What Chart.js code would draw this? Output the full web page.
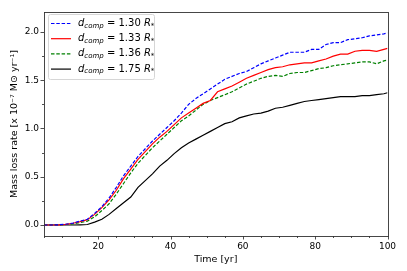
<!DOCTYPE html>
<html>
<head>
<meta charset="utf-8">
<script src="https://cdn.jsdelivr.net/npm/chart.js@4/dist/chart.umd.min.js"></script>
<style>
  html, body { margin: 0; padding: 0; background: #fff; }
  #wrap { width: 407px; height: 271px; }
</style>
</head>
<body>
<div id="wrap"><canvas id="chart1"></canvas></div>
<script>
// time axis [yr]
const times = [5, 7, 9, 11, 13, 15, 17, 19, 21, 23, 25, 27, 29, 31, 33, 35, 37, 39, 41, 43,
  45, 47, 49, 51, 53, 55, 57, 59, 61, 63, 65, 67, 69, 71, 73, 75, 77, 79, 81, 83,
  85, 87, 89, 91, 93, 95, 97, 99, 100]

// mass loss rate [x 1e-7 Msun/yr]
const rate_130 = [0, 0, 0.002, 0.008, 0.02, 0.04, 0.06, 0.12, 0.19, 0.28, 0.39, 0.51, 0.61, 0.71, 0.79, 0.87, 0.94, 1.01, 1.08, 1.16,
  1.25, 1.31, 1.36, 1.41, 1.46, 1.51, 1.54, 1.57, 1.59, 1.63, 1.67, 1.70, 1.73, 1.76, 1.79, 1.79, 1.79, 1.82, 1.82, 1.87,
  1.89, 1.89, 1.92, 1.93, 1.94, 1.96, 1.97, 1.98, 1.99]
const rate_133 = [0, 0, 0.002, 0.007, 0.018, 0.035, 0.055, 0.11, 0.18, 0.26, 0.36, 0.48, 0.58, 0.68, 0.76, 0.84, 0.91, 0.97, 1.04, 1.11,
  1.16, 1.21, 1.26, 1.29, 1.38, 1.41, 1.44, 1.48, 1.52, 1.55, 1.58, 1.61, 1.63, 1.64, 1.66, 1.67, 1.68, 1.68, 1.70, 1.72,
  1.75, 1.77, 1.77, 1.80, 1.81, 1.81, 1.80, 1.82, 1.83]
const rate_136 = [0, 0, 0.001, 0.005, 0.012, 0.025, 0.04, 0.085, 0.15, 0.22, 0.32, 0.43, 0.54, 0.64, 0.72, 0.80, 0.87, 0.94, 1.01, 1.08,
  1.13, 1.19, 1.25, 1.29, 1.32, 1.35, 1.38, 1.42, 1.46, 1.49, 1.52, 1.54, 1.55, 1.54, 1.57, 1.58, 1.58, 1.60, 1.62, 1.63,
  1.65, 1.66, 1.67, 1.68, 1.69, 1.69, 1.67, 1.70, 1.71]
const rate_175 = [0, 0, 0, 0, 0, 0.002, 0.005, 0.03, 0.06, 0.11, 0.17, 0.23, 0.29, 0.39, 0.46, 0.53, 0.61, 0.67, 0.74, 0.80,
  0.85, 0.89, 0.93, 0.97, 1.01, 1.05, 1.07, 1.11, 1.13, 1.15, 1.16, 1.18, 1.21, 1.22, 1.24, 1.26, 1.28, 1.29, 1.30, 1.31,
  1.32, 1.33, 1.33, 1.33, 1.34, 1.34, 1.35, 1.36, 1.37]

const d_comp = ['1.30', '1.33', '1.36', '1.75']
const x_ticks = [20, 40, 60, 80, 100]
const y_ticks = [0, 0.5, 1.0, 1.5, 2.0]

const FONT = 'DejaVu Sans'

function make_dataset(values, color, dash, d) {
  return {
    label: d,
    data: times.map((t, i) => ({x: t, y: values[i]})),
    borderColor: color,
    backgroundColor: color,
    borderWidth: 1.2,
    borderDash: dash,
    pointRadius: 0,
    tension: 0,
    fill: false
  }
}

// matplotlib-like ticks (major + minor, outward), frame and legend
const mpl_plugin = {
  id: 'mpl',
  afterDraw(chart) {
    const ctx = chart.ctx
    const a = chart.chartArea
    const xs = chart.scales.x
    const ys = chart.scales.y
    ctx.save()
    ctx.strokeStyle = '#222'
    ctx.lineWidth = 0.8
    ctx.beginPath()
    for (let v = 5; v <= 100; v += 5) {
      const px = Math.round(xs.getPixelForValue(v)) + 0.5
      const len = (v % 20 == 0) ? 3.5 : 2
      ctx.moveTo(px, a.bottom)
      ctx.lineTo(px, a.bottom + len)
    }
    for (let v = -0.0; v <= 2.2; v += 0.25) {
      const py = Math.round(ys.getPixelForValue(v)) + 0.5
      const len = (Math.abs(v * 2 - Math.round(v * 2)) < 1e-6) ? 3.5 : 2
      ctx.moveTo(a.left, py)
      ctx.lineTo(a.left - len, py)
    }
    ctx.stroke()
    ctx.strokeStyle = '#333'
    ctx.lineWidth = 0.9
    ctx.strokeRect(Math.round(a.left) + 0.5, Math.round(a.top) + 0.5,
      Math.round(a.right - a.left), Math.round(a.bottom - a.top))

    // legend
    const lx = a.left + 4, ly = a.top + 2, lw = 106, lh = 65
    ctx.fillStyle = 'rgba(255,255,255,0.85)'
    ctx.strokeStyle = '#d6d6d6'
    ctx.lineWidth = 1
    ctx.beginPath()
    ctx.roundRect(lx + 0.5, ly + 0.5, lw, lh, 2)
    ctx.fill()
    ctx.stroke()
    chart.data.datasets.forEach((ds, i) => {
      const cy = ly + 9.5 + i * 15.2
      ctx.strokeStyle = ds.borderColor
      ctx.lineWidth = 1.2
      ctx.setLineDash(ds.borderDash || [])
      ctx.beginPath()
      ctx.moveTo(lx + 3, cy)
      ctx.lineTo(lx + 23, cy)
      ctx.stroke()
      ctx.setLineDash([])
      ctx.fillStyle = '#000'
      ctx.textBaseline = 'middle'
      let tx = lx + 30
      ctx.font = 'italic 10px ' + FONT
      ctx.fillText('d', tx, cy)
      tx += ctx.measureText('d').width
      ctx.font = 'italic 7px ' + FONT
      ctx.fillText('comp', tx, cy + 2.5)
      tx += ctx.measureText('comp').width
      ctx.font = '10px ' + FONT
      const mid = ' = ' + ds.label + ' '
      ctx.fillText(mid, tx, cy)
      tx += ctx.measureText(mid).width
      ctx.font = 'italic 10px ' + FONT
      ctx.fillText('R', tx, cy)
      tx += ctx.measureText('R').width
      ctx.font = '7px ' + FONT
      ctx.fillText('*', tx, cy + 2.5)
    })
    ctx.restore()
  }
}

const ctx = document.getElementById('chart1')
const myChart = new Chart(ctx, {
  type: 'line',
  data: {
    datasets: [
      make_dataset(rate_130, '#0000ff', [3.5, 1.8], d_comp[0]),
      make_dataset(rate_133, '#ff0000', [], d_comp[1]),
      make_dataset(rate_136, '#008000', [3.5, 1.8], d_comp[2]),
      make_dataset(rate_175, '#000000', [], d_comp[3])
    ]
  },
  options: {
    responsive: true,
    maintainAspectRatio: false,
    animation: false,
    layout: { padding: { left: 0, right: 19.5, top: 12, bottom: 6 } },
    plugins: {
      legend: { display: false },
      tooltip: { enabled: false }
    },
    scales: {
      x: {
        type: 'linear',
        min: 5,
        max: 100,
        afterBuildTicks: s => { s.ticks = x_ticks.map(v => ({value: v})) },
        afterFit: s => { s.height = 271 - 236 - 6 },
        grid: { display: false, drawTicks: false },
        border: { display: false },
        ticks: {
          color: '#000',
          font: { family: FONT, size: 9 },
          padding: 5,
          maxRotation: 0,
          callback: v => String(v)
        },
        title: {
          display: true,
          text: 'Time [yr]',
          color: '#000',
          font: { family: FONT, size: 9.5 },
          padding: { top: 2, bottom: 0 }
        }
      },
      y: {
        type: 'linear',
        min: -0.114,
        max: 2.207,
        afterBuildTicks: s => { s.ticks = y_ticks.map(v => ({value: v})) },
        afterFit: s => { s.width = 44 },
        grid: { display: false, drawTicks: false },
        border: { display: false },
        ticks: {
          color: '#000',
          font: { family: FONT, size: 9 },
          padding: 5,
          callback: v => v.toFixed(1)
        },
        title: {
          display: true,
          text: 'Mass loss rate [x 10⁻⁷ M⊙ yr⁻¹]',
          color: '#000',
          font: { family: FONT, size: 9.5 },
          padding: { top: 9, bottom: 0 }
        }
      }
    }
  },
  plugins: [mpl_plugin]
})
</script>
</body>
</html>
